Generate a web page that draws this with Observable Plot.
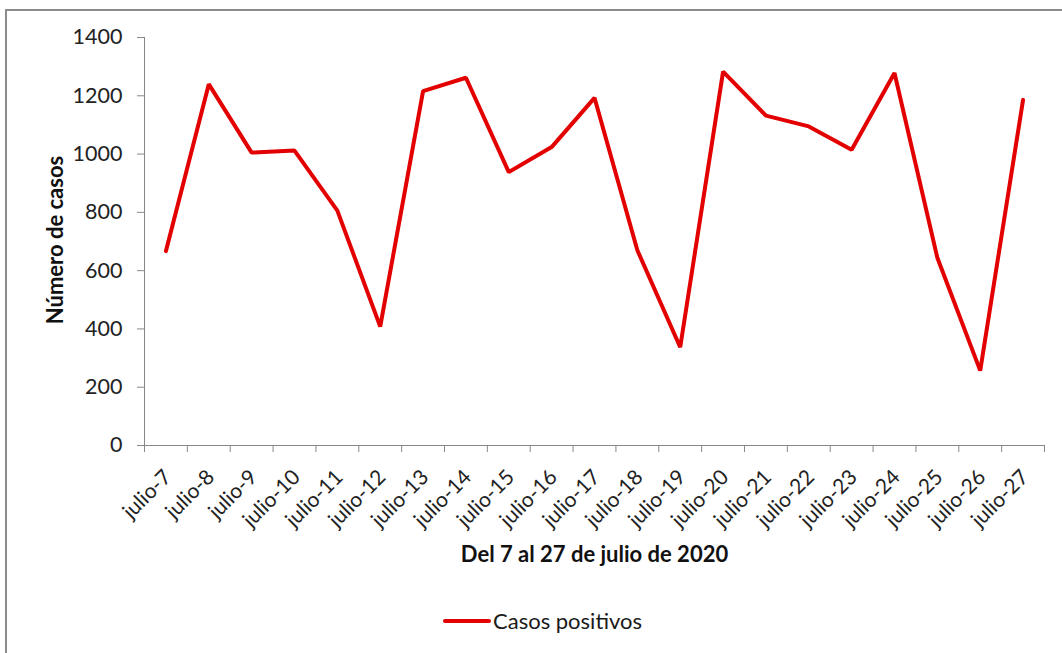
<!DOCTYPE html>
<html>
<head>
<meta charset="utf-8">
<script src="https://cdn.jsdelivr.net/npm/d3@7"></script>
<script src="https://cdn.jsdelivr.net/npm/@observablehq/plot@0.6"></script>
<style>
  html, body { margin: 0; padding: 0; background: #fff; }
  #wrap { position: relative; width: 1062px; height: 653px; overflow: hidden; font-family: Lato, "Open Sans", sans-serif; }
  #frame { position: absolute; left: 5px; top: 9px; width: 1200px; height: 800px; border: 2px solid #8c8c8c; box-sizing: border-box; }
  #chart { position: absolute; left: 0; top: 0; }
  #ytitle { position: absolute; left: 54px; top: 240px; transform: translate(-50%, -50%) rotate(-90deg); white-space: nowrap; font-size: 22px; font-weight: bold; color: #111; }
  #legend { position: absolute; left: 443px; top: 607px; display: flex; align-items: center; font-size: 22px; color: #1a1a1a; }
  #legend .sw { width: 48px; height: 4px; background: #e30000; border-radius: 2px; margin-right: 2px; }
</style>
</head>
<body>
<div id="wrap">
  <div id="frame"></div>
  <div id="chart"></div>
  <div id="ytitle"></div>
  <div id="legend"><span class="sw"></span><span id="legtext"></span></div>
</div>
<script>
const categories = ["julio-7","julio-8","julio-9","julio-10","julio-11","julio-12","julio-13","julio-14","julio-15","julio-16","julio-17","julio-18","julio-19","julio-20","julio-21","julio-22","julio-23","julio-24","julio-25","julio-26","julio-27"];
const casos = [667, 1240, 1005, 1012, 806, 408, 1216, 1262, 938, 1024, 1193, 670, 337, 1283, 1132, 1095, 1015, 1278, 644, 257, 1186];
const yTicks = [0, 200, 400, 600, 800, 1000, 1200, 1400];
const xTitle = "Del 7 al 27 de julio de 2020";
const yTitle = "Número de casos";
const seriesName = "Casos positivos";

document.getElementById("ytitle").textContent = yTitle;
document.getElementById("legtext").textContent = seriesName;

const data = categories.map((c, i) => ({i, label: c, v: casos[i]}));
const bounds = d3.range(-0.5, categories.length, 1);

const plot = Plot.plot({
  width: 1062,
  height: 600,
  marginLeft: 144,
  marginRight: 18,
  marginTop: 37,
  marginBottom: 155,
  style: {fontFamily: 'Lato, "Open Sans", sans-serif', background: "transparent", overflow: "visible"},
  x: {domain: [-0.5, categories.length - 0.5]},
  y: {domain: [0, 1400]},
  marks: [
    Plot.axisY({ticks: yTicks, tickSize: 7, tickPadding: 15, fontSize: 21.5, stroke: "#888", fill: "#222", label: null, tickFormat: d => String(d)}),
    Plot.axisX({ticks: bounds, tickSize: 7, tickFormat: () => "", stroke: "#888", label: null}),
    Plot.ruleY([0], {stroke: "#888", strokeWidth: 1}),
    Plot.ruleX([-0.5], {stroke: "#888", strokeWidth: 1}),
    Plot.line(data, {x: "i", y: "v", stroke: "#e30000", strokeWidth: 4, strokeLinejoin: "miter"}),
    Plot.text(data, {x: "i", y: 0, text: "label", rotate: -45, textAnchor: "end", dx: 2, dy: 28, fontSize: 21, fill: "#222"}),
    Plot.text([xTitle], {frameAnchor: "bottom", dy: 116, fontSize: 22, fontWeight: "bold", fill: "#111"})
  ]
});
document.getElementById("chart").appendChild(plot);
</script>
</body>
</html>
